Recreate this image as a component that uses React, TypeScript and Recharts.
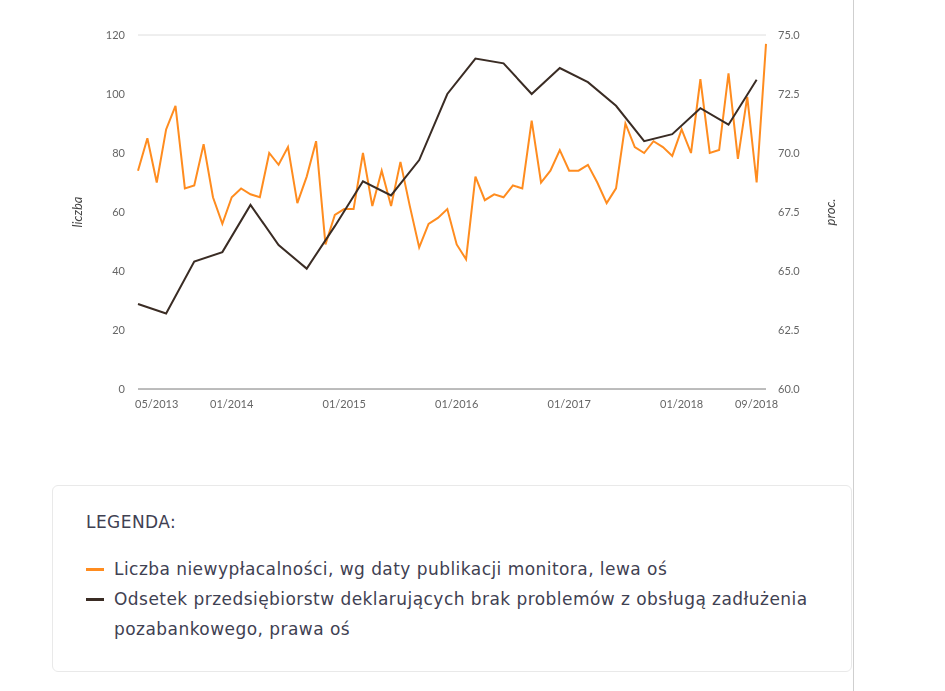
import { LineChart, Line, XAxis, YAxis, CartesianGrid } from 'recharts'

// miesiące 03/2013 – 10/2018
const months: string[] = [
  '03/2013', '04/2013', '05/2013', '06/2013', '07/2013', '08/2013', '09/2013', '10/2013', '11/2013', '12/2013',
  '01/2014', '02/2014', '03/2014', '04/2014', '05/2014', '06/2014', '07/2014', '08/2014', '09/2014', '10/2014', '11/2014', '12/2014',
  '01/2015', '02/2015', '03/2015', '04/2015', '05/2015', '06/2015', '07/2015', '08/2015', '09/2015', '10/2015', '11/2015', '12/2015',
  '01/2016', '02/2016', '03/2016', '04/2016', '05/2016', '06/2016', '07/2016', '08/2016', '09/2016', '10/2016', '11/2016', '12/2016',
  '01/2017', '02/2017', '03/2017', '04/2017', '05/2017', '06/2017', '07/2017', '08/2017', '09/2017', '10/2017', '11/2017', '12/2017',
  '01/2018', '02/2018', '03/2018', '04/2018', '05/2018', '06/2018', '07/2018', '08/2018', '09/2018', '10/2018',
]

// liczba niewypłacalności (lewa oś)
const insolvencies: number[] = [
  74, 85, 70, 88, 96, 68, 69, 83, 65, 56,
  65, 68, 66, 65, 80, 76, 82, 63, 72, 84, 49, 59,
  61, 61, 80, 62, 74, 62, 77, 62, 48, 56, 58, 61,
  49, 44, 72, 64, 66, 65, 69, 68, 91, 70, 74, 81,
  74, 74, 76, 70, 63, 68, 90, 82, 80, 84, 82, 79,
  88, 80, 105, 80, 81, 107, 78, 99, 70, 117,
]

// odsetek przedsiębiorstw (prawa oś), dane kwartalne
const quarterMonths: string[] = [
  '03/2013', '06/2013', '09/2013', '12/2013', '03/2014', '06/2014', '09/2014', '12/2014',
  '03/2015', '06/2015', '09/2015', '12/2015', '03/2016', '06/2016', '09/2016', '12/2016',
  '03/2017', '06/2017', '09/2017', '12/2017', '03/2018', '06/2018', '09/2018',
]
const share: number[] = [
  63.6, 63.2, 65.4, 65.8, 67.8, 66.1, 65.1, 66.9,
  68.8, 68.2, 69.7, 72.5, 74.0, 73.8, 72.5, 73.6,
  73.0, 72.0, 70.5, 70.8, 71.9, 71.2, 73.1,
]

const xTicks = ['05/2013', '01/2014', '01/2015', '01/2016', '01/2017', '01/2018', '09/2018']
const leftTicks = [0, 20, 40, 60, 80, 100, 120]
const rightTicks = [60, 62.5, 65, 67.5, 70, 72.5, 75]

const data = months.map((m, i) => {
  const q = quarterMonths.indexOf(m)
  return { month: m, count: insolvencies[i], share: q >= 0 ? share[q] : null }
})

const ORANGE = '#ff8c1f'
const DARK = '#3a2c24'
const tickStyle = { fontSize: 11, fill: '#666', fontFamily: 'Lato' }
const axisLabelStyle = { fontSize: 13, fontStyle: 'italic', fill: '#444', fontFamily: 'Lato', textAnchor: 'middle' }

export default function App() {
  return (
    <div style={{ position: 'relative', width: 929 }}>
      <div style={{ position: 'fixed', left: 853, top: 0, width: 1, height: 691, background: '#cfcfcf' }} />
      <LineChart width={860} height={440} data={data} margin={{ top: 27, right: 32, left: 60, bottom: 29 }}>
        <CartesianGrid vertical={false} stroke="#dedede" />
        <XAxis
          dataKey="month"
          ticks={xTicks}
          interval={0}
          tick={tickStyle}
          tickLine={false}
          tickMargin={5}
          axisLine={{ stroke: '#8a8a8a' }}
          height={30}
        />
        <YAxis
          yAxisId="left"
          domain={[0, 120]}
          ticks={leftTicks}
          tick={tickStyle}
          tickLine={false}
          axisLine={false}
          tickMargin={7}
          width={70}
          label={{ value: 'liczba', angle: -90, position: 'insideLeft', offset: 9, style: axisLabelStyle }}
        />
        <YAxis
          yAxisId="right"
          orientation="right"
          domain={[60, 75]}
          ticks={rightTicks}
          tickFormatter={(v: number) => v.toFixed(1)}
          tick={tickStyle}
          tickLine={false}
          axisLine={false}
          tickMargin={6}
          width={70}
          label={{ value: 'proc.', angle: -90, position: 'insideRight', offset: 6, style: axisLabelStyle }}
        />
        <Line yAxisId="left" dataKey="count" stroke={ORANGE} strokeWidth={2} dot={false} isAnimationActive={false} />
        <Line yAxisId="right" dataKey="share" stroke={DARK} strokeWidth={2} dot={false} connectNulls isAnimationActive={false} />
      </LineChart>
      <div
        style={{
          marginTop: 37,
          marginLeft: 44,
          width: 800,
          height: 187,
          boxSizing: 'border-box',
          border: '1px solid #e9e9e9',
          borderRadius: 6,
          fontFamily: 'DejaVu Sans',
          color: '#3f4152',
          fontSize: 17,
          letterSpacing: '0.45px',
          paddingLeft: 33,
          paddingTop: 26,
        }}
      >
        <div style={{ marginBottom: 22 }}>LEGENDA:</div>
        <div style={{ display: 'flex', lineHeight: '30px' }}>
          <span style={{ width: 18, height: 3, background: ORANGE, marginTop: 14, marginRight: 10, flexShrink: 0 }} />
          <span>Liczba niewypłacalności, wg daty publikacji monitora, lewa oś</span>
        </div>
        <div style={{ display: 'flex', lineHeight: '30px' }}>
          <span style={{ width: 18, height: 3, background: DARK, marginTop: 14, marginRight: 10, flexShrink: 0 }} />
          <span style={{ width: 710 }}>
            Odsetek przedsiębiorstw deklarujących brak problemów z obsługą zadłużenia pozabankowego, prawa oś
          </span>
        </div>
      </div>
    </div>
  )
}
